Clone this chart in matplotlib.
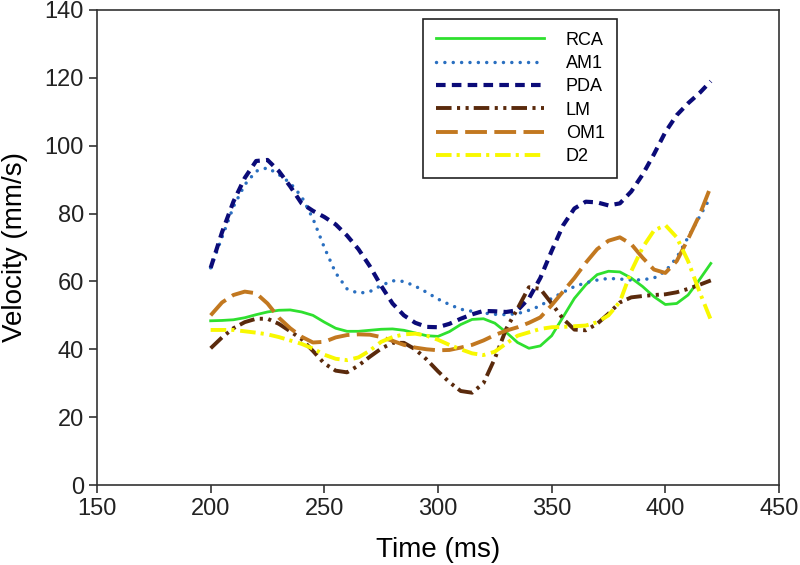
import matplotlib
matplotlib.use("Agg")
import matplotlib.pyplot as plt

plt.rcParams['font.family'] = ['Liberation Sans', 'DejaVu Sans']

time_ms = [200, 205, 210, 215, 220, 225, 230, 235, 240, 245, 250, 255, 260, 265, 270,
           275, 280, 285, 290, 295, 300, 305, 310, 315, 320, 325, 330, 335, 340, 345,
           350, 355, 360, 365, 370, 375, 380, 385, 390, 395, 400, 405, 410, 415, 420]

rca = [48.4, 48.5, 48.7, 49.3, 50.2, 51.0, 51.5, 51.6, 51.0, 50.0, 48.0, 46.2, 45.3, 45.3, 45.6,
       45.9, 46.0, 45.6, 44.8, 44.0, 43.8, 45.2, 47.3, 48.8, 49.0, 47.7, 45.0, 42.0, 40.3, 41.0,
       44.0, 49.5, 55.0, 59.0, 62.0, 63.0, 62.8, 61.0, 58.5, 55.5, 53.2, 53.5, 56.0, 60.5, 65.3]

am1 = [64.0, 73.0, 82.0, 88.5, 92.5, 93.5, 91.5, 89.0, 85.0, 78.5, 70.0, 62.5, 57.8, 56.5, 57.0,
       58.8, 60.2, 60.0, 58.6, 56.8, 54.8, 53.2, 51.8, 51.2, 50.7, 50.3, 50.2, 50.5, 51.5, 52.8,
       55.0, 56.8, 58.5, 59.6, 60.4, 60.9, 60.7, 60.4, 60.5, 61.0, 63.0, 67.0, 73.0, 79.0, 85.0]

pda = [64.0, 74.5, 83.5, 90.5, 95.5, 95.8, 92.5, 88.0, 83.0, 80.8, 79.0, 76.8, 73.5, 69.5, 64.5,
       58.7, 53.5, 50.0, 47.8, 46.6, 46.5, 47.5, 49.0, 50.3, 51.3, 51.2, 51.0, 51.5, 55.0, 61.0,
       69.0, 76.5, 81.5, 83.5, 83.3, 82.4, 83.0, 86.5, 91.5, 97.5, 104.0, 109.0, 112.5, 115.5, 119.0]

lm = [40.3, 43.5, 46.2, 48.0, 49.0, 49.0, 47.5, 45.3, 43.0, 39.5, 35.8, 33.7, 33.2, 35.2, 37.8,
      40.2, 41.9, 41.9, 40.0, 37.0, 33.5, 30.3, 27.7, 27.2, 30.0, 37.3, 46.0, 52.0, 58.3, 57.8,
      53.5, 49.0, 45.8, 45.6, 47.5, 50.5, 53.8, 55.3, 55.7, 56.0, 56.2, 56.8, 57.8, 59.0, 60.3]

om1 = [50.0, 53.8, 56.0, 57.0, 56.5, 53.5, 49.3, 46.2, 43.7, 42.0, 42.2, 43.5, 44.2, 44.4, 44.3,
       43.6, 42.5, 41.3, 40.5, 40.0, 39.7, 39.8, 40.5, 41.3, 42.6, 44.2, 45.5, 46.5, 47.8, 49.4,
       53.0, 57.0, 61.0, 65.5, 69.5, 72.0, 73.0, 71.0, 67.0, 63.5, 62.5, 66.0, 72.5, 79.5, 88.0]

d2 = [45.7, 45.7, 45.7, 45.3, 44.9, 44.4, 43.6, 42.6, 41.6, 40.2, 38.4, 37.2, 36.8, 37.6, 39.6,
      42.2, 43.6, 44.4, 44.6, 44.0, 42.8, 41.3, 40.0, 38.8, 38.3, 39.3, 41.7, 44.0, 45.0, 46.0,
      46.5, 46.6, 46.8, 47.0, 48.0, 50.0, 54.0, 63.0, 70.0, 75.0, 76.6, 73.0, 66.0, 57.0, 48.7]

series_names = ["RCA", "AM1", "PDA", "LM", "OM1", "D2"]

fig = plt.figure(figsize=(8.0, 5.65), dpi=100)
ax = fig.add_axes([97/800, 1 - 485/565, (779 - 97)/800, (485 - 10)/565])

styles = [
    dict(color="#2fe02f", lw=2.0, ls="-"),
    dict(color="#2a6fc0", lw=2.5, ls=(0, (0.01, 2.4)), dash_capstyle="round"),
    dict(color="#0b0b78", lw=3.0, ls=(0, (2.3, 1.5))),
    dict(color="#5a2a0c", lw=2.8, ls=(0, (4.0, 1.4, 0.8, 1.4, 0.8, 1.3))),
    dict(color="#c27820", lw=2.8, ls=(0, (5.6, 1.9))),
    dict(color="#f8f800", lw=2.8, ls=(0, (4.0, 1.3, 0.8, 1.5))),
]
data = [rca, am1, pda, lm, om1, d2]

for name, vals, st in zip(series_names, data, styles):
    kw = dict(st)
    ls = kw.pop("ls")
    ax.plot(time_ms, vals, linestyle=ls, label=name, **kw)

ax.set_xlim(150, 450)
ax.set_ylim(0, 140)
ax.set_xticks(range(150, 451, 50))
ax.set_yticks(range(0, 141, 20))
ax.tick_params(direction="out", length=6, width=1.1, labelsize=17, colors="#222222",
               top=False, right=False)
for sp in ax.spines.values():
    sp.set_linewidth(1.2)
    sp.set_color("#333333")

ax.set_xlabel("Time (ms)", fontsize=20, labelpad=12)
ax.set_ylabel("Velocity (mm/s)", fontsize=20, labelpad=12)

leg = ax.legend(loc="upper left", bbox_to_anchor=(423/800, 1 - 19/565),
                bbox_transform=fig.transFigure, fontsize=13, frameon=True,
                fancybox=False, framealpha=1, edgecolor="#222222",
                handlelength=6.0, handletextpad=1.2, labelspacing=0.35,
                borderpad=0.7, borderaxespad=0)
leg.get_frame().set_linewidth(1.2)

fig.savefig("out.png", dpi=100)
